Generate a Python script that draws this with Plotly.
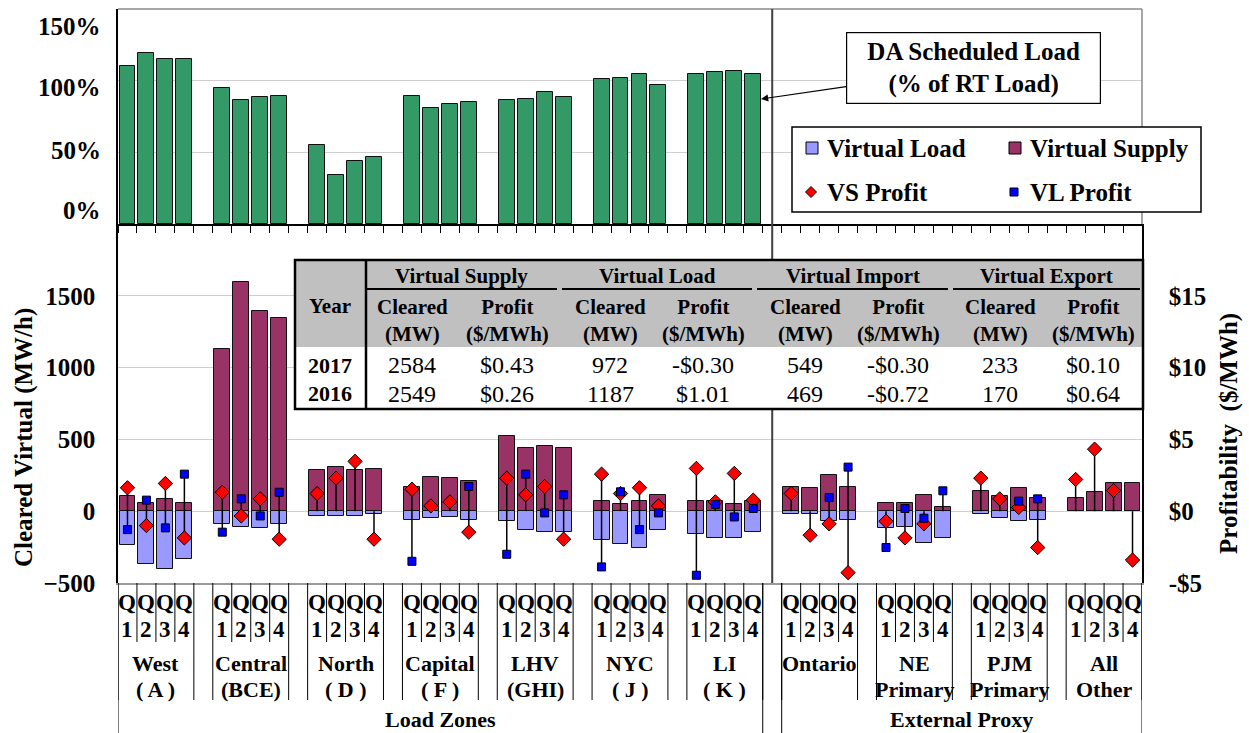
import plotly.graph_objects as go

FONT = "Liberation Serif, Times New Roman, serif"

# ---------------- data ----------------
group_line1 = ["West", "Central", "North", "Capital", "LHV", "NYC", "LI",
               "Ontario", "NE", "PJM", "All"]
group_line2 = ["( A )", "(BCE)", "( D )", "( F )", "(GHI)", "( J )", "( K )",
               "", "Primary", "Primary", "Other"]
quarter_digits = ["1", "2", "3", "4"]
section_names = ["Load Zones", "External Proxy"]
load_zone_count = 7

# DA scheduled load (% of RT load), load zones only
da_sched_pct = [110.4, 119.5, 115.3, 115.3,
                95.1, 86.5, 88.4, 89.3,
                55.3, 34.4, 43.9, 46.7,
                89.3, 80.7, 83.5, 85.3,
                86.5, 87.4, 92.3, 88.4,
                100.9, 101.8, 104.8, 96.9,
                104.8, 105.8, 106.7, 104.8]

vs_cleared_mw = [105, 54, 86, 54,
                 1127, 1599, 1397, 1348,
                 288, 307, 288, 297,
                 172, 239, 228, 211,
                 521, 442, 451, 442,
                 68, 47, 68, 114,
                 68, 68, 47, 68,
                 172, 163, 249, 172,
                 56, 56, 114, 28,
                 144, 105, 163, 95,
                 95, 135, 193, 193]

vl_cleared_mw = [-232, -370, -400, -330,
                 -88, -109, -116, -88,
                 -33, -33, -33, -21,
                 -58, -49, -40, -58,
                 -70, -128, -146, -146,
                 -204, -225, -253, -128,
                 -156, -186, -186, -146,
                 -21, -21, -70, -58,
                 -119, -107, -223, -186,
                 -21, -49, -70, -58,
                 0, 0, 0, 0]

vs_profit = [1.63, -1.00, 1.93, -1.86,
             1.32, -0.33, 0.86, -1.95,
             1.23, 2.30, 3.47, -1.95,
             1.53, 0.37, 0.65, -1.46,
             2.30, 1.14, 1.72, -1.95,
             2.58, 1.23, 1.63, 0.37,
             2.98, 0.65, 2.63, 0.77,
             1.23, -1.67, -0.88, -4.28,
             -0.70, -1.86, -0.88, None,
             2.30, 0.86, 0.26, -2.53,
             2.21, 4.32, 1.44, -3.40]

vl_profit = [-1.28, 0.77, -1.16, 2.58,
             -1.46, 0.86, -0.33, 1.32,
             None, None, None, None,
             -3.49, None, None, 1.72,
             -3.00, 2.58, -0.12, 1.14,
             -3.88, 1.35, -1.28, -0.12,
             -4.46, 0.47, -0.40, 0.19,
             None, None, 0.95, 3.07,
             -2.53, 0.19, -0.49, 1.42,
             None, None, 0.70, 0.86,
             None, None, None, None]

pct_tick_labels = ["150%", "100%", "50%", "0%"]
pct_grid_vals = [0, 50, 100, 150]
mw_tick_vals = [-500, 0, 500, 1000, 1500]
profit_tick_vals = [-5, 0, 5, 10, 15]
profit_tick_text = ["-$5", "$0", "$5", "$10", "$15"]

table_groups = ["Virtual Supply", "Virtual Load", "Virtual Import", "Virtual Export"]
table_sub = ["Cleared<br>(MW)", "Profit<br>($/MWh)"]
table_years = ["2017", "2016"]
table_rows = [["2584", "$0.43", "972", "-$0.30", "549", "-$0.30", "233", "$0.10"],
              ["2549", "$0.26", "1187", "$1.01", "469", "-$0.72", "170", "$0.64"]]

# ---------------- geometry ----------------
W, H = 1249, 733
ML, MR, MT, MB = 118, 107, 9, 150
PW = W - ML - MR
PH = H - MT - MB
SPLIT = 224  # pixel row separating the two panels


def px(x):
    return (x - ML) / PW


def py(y):
    return (H - MB - y) / PH


n_groups = len(group_line1)
slots = 5
x_pos = [slots * g + q for g in range(n_groups) for q in range(4)]
x_range = [-0.5, slots * n_groups - 1.5]
bar_w = 0.84

# high-low connector lines
line_x, line_y = [], []
for xx, a, b in zip(x_pos, vs_profit, vl_profit):
    vals = [0] + [v for v in (a, b) if v is not None]
    line_x += [xx, xx, None]
    line_y += [min(vals), max(vals), None]

fig = go.Figure()
fig.add_trace(go.Bar(x=x_pos[:len(da_sched_pct)], y=da_sched_pct, width=bar_w,
                     marker=dict(color="#339966", line=dict(color="#111", width=1)),
                     xaxis="x", yaxis="y", showlegend=False))
fig.add_trace(go.Bar(x=x_pos, y=vs_cleared_mw, width=bar_w,
                     marker=dict(color="#993366", line=dict(color="#111", width=1)),
                     xaxis="x2", yaxis="y2", showlegend=False))
fig.add_trace(go.Bar(x=x_pos, y=vl_cleared_mw, width=bar_w,
                     marker=dict(color="#9999FF", line=dict(color="#111", width=1)),
                     xaxis="x2", yaxis="y2", showlegend=False))
fig.add_trace(go.Scatter(x=line_x, y=line_y, mode="lines",
                         line=dict(color="black", width=1.5),
                         xaxis="x2", yaxis="y3", showlegend=False, connectgaps=False))
fig.add_trace(go.Scatter(x=x_pos, y=vs_profit, mode="markers",
                         marker=dict(symbol="diamond", size=11, color="#FF0000",
                                     line=dict(color="black", width=1)),
                         xaxis="x2", yaxis="y3", showlegend=False))
fig.add_trace(go.Scatter(x=x_pos, y=vl_profit, mode="markers",
                         marker=dict(symbol="square", size=8, color="#0000FF",
                                     line=dict(color="black", width=1)),
                         xaxis="x2", yaxis="y3", showlegend=False))

split_paper = py(SPLIT)
tick_font = dict(family=FONT, size=25, color="black", weight="bold")
grid_c = "#CFCFCF"

fig.update_layout(
    width=W, height=H,
    margin=dict(l=ML, r=MR, t=MT, b=MB, autoexpand=False),
    paper_bgcolor="white", plot_bgcolor="white",
    barmode="overlay", bargap=0,
    xaxis=dict(domain=[0, 1], anchor="y", range=x_range, showgrid=False, zeroline=False,
               automargin=False,
               showline=True, linecolor="black", linewidth=1.5,
               ticks="outside", ticklen=7, tickcolor="black", tickwidth=1,
               tickvals=[k - 0.5 for k in range(slots * n_groups)], showticklabels=False),
    yaxis=dict(domain=[split_paper, 1], anchor="x", range=[0, 150], tickvals=pct_grid_vals,
               automargin=False,
               showticklabels=False, showgrid=True, gridcolor=grid_c, gridwidth=1.2,
               zeroline=False, showline=True, linecolor="black", linewidth=1.5, ticks=""),
    xaxis2=dict(domain=[0, 1], anchor="y2", range=x_range, showgrid=False, zeroline=False,
                automargin=False,
                showline=True, linecolor="#9a9a9a", linewidth=1.5, ticks="",
                showticklabels=False),
    yaxis2=dict(domain=[0, split_paper], anchor="x2", range=[-500, 2000],
                automargin=False,
                tickvals=mw_tick_vals, tickfont=tick_font, ticklabelstandoff=16,
                showgrid=True, gridcolor=grid_c, gridwidth=1.2, zeroline=False,
                showline=True, linecolor="black", linewidth=1.5, ticks=""),
    yaxis3=dict(overlaying="y2", side="right", anchor="x2", range=[-5, 20],
                automargin=False,
                tickvals=profit_tick_vals, ticktext=profit_tick_text, tickfont=tick_font,
                ticklabelstandoff=20, showgrid=False, zeroline=False,
                showline=True, linecolor="black", linewidth=1.5, ticks=""),
)

shapes = []
annotations = []


def ann(text, x, y, size=22, bold=True, xref="paper", xanchor="center",
        yanchor="middle", angle=0):
    return dict(text=(f"<b>{text}</b>" if bold else text), x=x, y=y, xref=xref, yref="paper",
                showarrow=False, font=dict(family=FONT, size=size, color="black"),
                xanchor=xanchor, yanchor=yanchor, textangle=angle)


def hline(x0, x1, y, color="black", width=1, xref="paper"):
    return dict(type="line", xref=xref, yref="paper", x0=x0, x1=x1, y0=py(y), y1=py(y),
                line=dict(color=color, width=width))


def vline(x, y0, y1, color="black", width=1, xref="paper"):
    return dict(type="line", xref=xref, yref="paper", x0=x, x1=x, y0=py(y0), y1=py(y1),
                line=dict(color=color, width=width))


# top panel gray frame (top + right)
shapes.append(hline(px(ML), px(ML + PW), MT, color="#8a8a8a", width=1.5))
shapes.append(vline(px(ML + PW), MT, SPLIT, color="#8a8a8a", width=1.5))

# divider between load zones and external proxies
div_x = slots * load_zone_count - 1
shapes.append(dict(type="line", xref="x2", yref="paper", x0=div_x, x1=div_x, y0=0, y1=1,
                   line=dict(color="#404040", width=2)))

# top panel tick labels (left)
for lab, yy in zip(pct_tick_labels, [27, 88, 150, 210]):
    annotations.append(ann(lab, px(103), py(yy), size=25, xanchor="right"))

# axis titles
annotations.append(ann("Cleared Virtual (MW/h)", px(24), py(438), size=25, angle=-90))
annotations.append(ann("Profitability&nbsp;&nbsp;($/MWh)", px(1229), py(434), size=25, angle=-90))

# category axis: quarters, groups, sections
for g in range(n_groups):
    for q in range(4):
        xx = slots * g + q
        annotations.append(ann("Q", xx, py(602), size=23, xref="x2"))
        annotations.append(ann(quarter_digits[q], xx, py(630), size=23, xref="x2"))
        if q < 3:
            shapes.append(vline(xx + 0.5, 583, 642, xref="x2"))
    left = slots * g - 0.5
    right = slots * g + 3.5
    shapes.append(vline(left, 583, 700, xref="x2"))
    shapes.append(vline(right, 583, 700, xref="x2"))
    annotations.append(ann(group_line1[g], slots * g + 1.5, py(663), size=22, xref="x2"))
    if group_line2[g]:
        annotations.append(ann(group_line2[g], slots * g + 1.5, py(689), size=22, xref="x2"))

sec_bounds = [(-0.5, slots * load_zone_count - 1.5),
              (slots * load_zone_count - 0.5, slots * n_groups - 1.5)]
for name, (a, b) in zip(section_names, sec_bounds):
    shapes.append(vline(a, 583, 733, xref="x2"))
    shapes.append(vline(b, 583, 733, xref="x2"))
    annotations.append(ann(name, (a + b) / 2, py(719), size=22, xref="x2"))

# DA scheduled load callout
annotations.append(dict(
    text="<b>DA Scheduled Load<br>(% of RT Load)</b>", xref="paper", yref="paper",
    x=px(761), y=py(99), ax=212, ay=-31, showarrow=True, arrowhead=2, arrowsize=1.2,
    arrowwidth=1.2, arrowcolor="black", bgcolor="white", bordercolor="black",
    borderwidth=1.2, borderpad=4, width=245, height=62,
    font=dict(family=FONT, size=25, color="black")))

# manual legend
shapes.append(dict(type="rect", xref="paper", yref="paper", x0=px(792), x1=px(1201),
                   y0=py(212), y1=py(127), fillcolor="white", line=dict(color="black", width=1.5)))
for cx, cy, col in [(812, 148, "#9999FF"), (1015, 148, "#993366")]:
    shapes.append(dict(type="rect", xref="paper", yref="paper", x0=px(cx - 6), x1=px(cx + 6),
                       y0=py(cy + 6), y1=py(cy - 6), fillcolor=col,
                       line=dict(color="black", width=1)))
dx, dy = 5.5 / PW, 5.5 / PH
cx, cy = px(811), py(192)
shapes.append(dict(type="path", xref="paper", yref="paper",
                   path=f"M {cx-dx},{cy} L {cx},{cy+dy} L {cx+dx},{cy} L {cx},{cy-dy} Z",
                   fillcolor="#FF0000", line=dict(color="black", width=1)))
shapes.append(dict(type="rect", xref="paper", yref="paper", x0=px(1010), x1=px(1018),
                   y0=py(196), y1=py(188), fillcolor="#0000FF", line=dict(color="black", width=1)))
for txt, lx, ly in [("Virtual Load", 825, 148), ("Virtual Supply", 1028, 148),
                    ("VS Profit", 825, 192), ("VL Profit", 1028, 192)]:
    annotations.append(ann(txt, px(lx), py(ly), size=25, xanchor="left"))

# summary table
T_L, T_R, T_T, T_HB, T_B, YEAR_R = 295, 1143, 260, 347, 409, 366
shapes.append(dict(type="rect", xref="paper", yref="paper", x0=px(T_L), x1=px(T_R),
                   y0=py(T_HB), y1=py(T_T), fillcolor="#C0C0C0", line=dict(width=0)))
shapes.append(dict(type="rect", xref="paper", yref="paper", x0=px(T_L), x1=px(T_R),
                   y0=py(T_B), y1=py(T_HB), fillcolor="white", line=dict(width=0)))
shapes.append(dict(type="rect", xref="paper", yref="paper", x0=px(T_L), x1=px(T_R),
                   y0=py(T_B), y1=py(T_T), line=dict(color="black", width=2.5)))
shapes.append(vline(px(YEAR_R), T_T, T_B, width=2.5))
grp_spans = [(366, 557), (562, 752), (757, 948), (953, 1140)]
col_centers = [412, 507, 610, 703, 805, 898, 1000, 1093]
for name, (a, b) in zip(table_groups, grp_spans):
    shapes.append(hline(px(a), px(b), 289, width=2))
    annotations.append(ann(name, px((a + b) / 2), py(276), size=21))
annotations.append(ann("Year", px(330), py(306), size=21))
for i, cxx in enumerate(col_centers):
    annotations.append(ann(table_sub[i % 2], px(cxx), py(320), size=21))
for r, (yr, row) in enumerate(zip(table_years, table_rows)):
    yy = 365 + 29 * r
    annotations.append(ann(yr, px(330), py(yy), size=22))
    for cxx, val in zip(col_centers, row):
        annotations.append(ann(val, px(cxx), py(yy), size=24, bold=False))

fig.update_layout(shapes=shapes, annotations=annotations)
fig.write_html("out.html", config={"displayModeBar": False},
               post_script="document.body.style.margin='0px';document.body.style.padding='0px';")
